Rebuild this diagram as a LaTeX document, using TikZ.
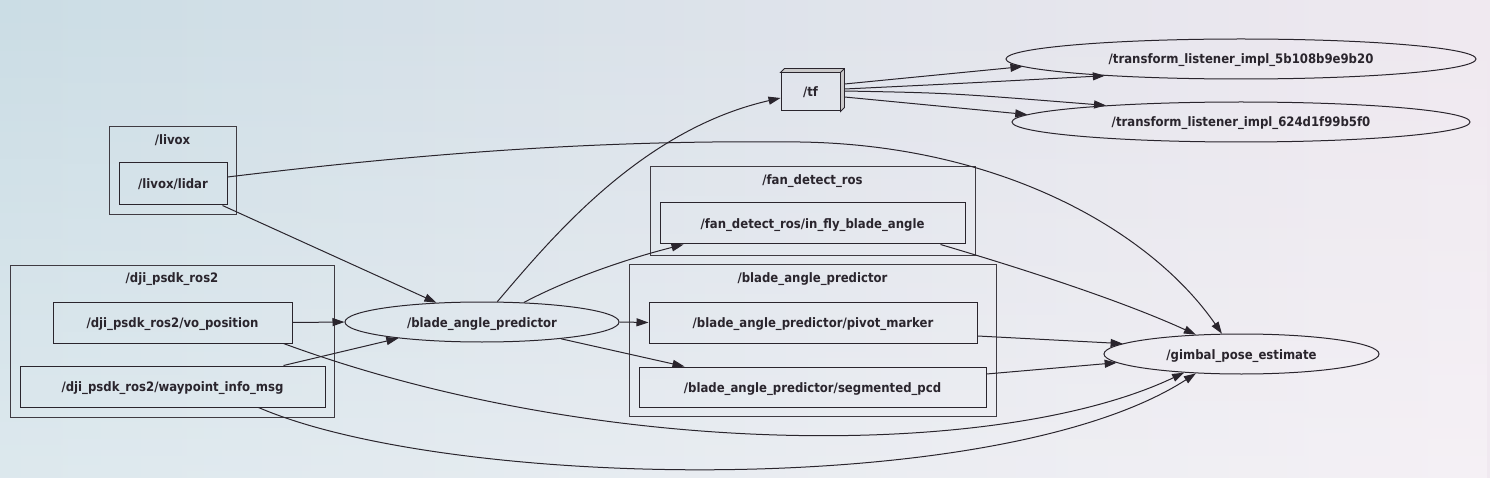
\documentclass[tikz,border=0pt]{standalone}
\usepackage{fontspec}
\setmainfont{DejaVuSansCondensed-Bold.ttf}
\usetikzlibrary{arrows.meta,shapes.geometric,fadings}
\definecolor{inkgrey}{RGB}{42,37,45}
\definecolor{bgleft}{RGB}{203,221,229}
\definecolor{bgmid}{RGB}{229,226,237}
\definecolor{bgright}{RGB}{240,233,240}

\begin{document}
\begin{tikzpicture}[x=1pt,y=-1pt,font=\fontsize{13}{15}\selectfont,text=inkgrey]
\tikzstyle{link} = [draw=inkgrey, line width=1pt, -{Triangle[length=12pt,width=8pt]}]
\tikzstyle{topic} = [draw=inkgrey, line width=1pt, rectangle, minimum height=41pt, inner sep=0pt, text height=11pt, text depth=1pt]
\tikzstyle{rosnode} = [draw=inkgrey, line width=1pt, ellipse, minimum height=40pt, inner sep=0pt, text height=11pt, text depth=1pt]
\tikzstyle{cluster} = [draw=inkgrey!90, line width=0.9pt, rectangle, inner sep=0pt]
\tikzstyle{title} = [inner sep=0pt, text height=11pt, text depth=1pt]
\useasboundingbox (0,0) rectangle (1490,478);
\shade[left color=bgleft, middle color=bgmid, right color=bgright] (0,0) rectangle (1490,478);
\fill[white, opacity=0.35, path fading=north] (0,0) rectangle (1490,478);
% groups
\node[cluster, minimum width=127pt, minimum height=88pt] (livoxgrp) at (172.5,170) {};
\node[title] at (172.5,140) {/livox};
\node[cluster, minimum width=324pt, minimum height=152pt] (djigrp) at (172,341) {};
\node[title] at (172,278) {/dji\_psdk\_ros2};
\node[cluster, minimum width=325pt, minimum height=89pt] (fangrp) at (812.5,210.5) {};
\node[title] at (812.5,180) {/fan\_detect\_ros};
\node[cluster, minimum width=367pt, minimum height=152pt] (bapgrp) at (812.5,340) {};
\node[title] at (812.5,278) {/blade\_angle\_predictor};
% topics
\node[topic, minimum width=108pt, minimum height=42pt] (lidar) at (173,184) {/livox/lidar};
\node[topic, minimum width=239pt] (vopos) at (172.5,322.5) {/dji\_psdk\_ros2/vo\_position};
\node[topic, minimum width=305pt] (wpt) at (172.5,386.5) {/dji\_psdk\_ros2/waypoint\_info\_msg};
\node[topic, minimum width=305pt] (infly) at (812.5,223.5) {/fan\_detect\_ros/in\_fly\_blade\_angle};
\node[topic, minimum width=328pt] (pivot) at (813,322.5) {/blade\_angle\_predictor/pivot\_marker};
\node[topic, minimum width=347pt, minimum height=40pt] (seg) at (812.5,387) {/blade\_angle\_predictor/segmented\_pcd};
\node[topic, minimum width=59pt, minimum height=38pt] (tf) at (810.5,92) {/tf};
\filldraw[fill=inkgrey!25, draw=inkgrey, line width=0.9pt] (tf.north west) -- ++(4,-4) -- ([shift={(4pt,4pt)}]tf.north east)
  -- ([shift={(4pt,4pt)}]tf.south east) -- (tf.south east) -- (tf.north east) -- cycle;
\draw[inkgrey, line width=0.9pt] (tf.north east) -- ++(4,-4);
% nodes
\node[rosnode, minimum width=274pt] (bap) at (482,322) {/blade\_angle\_predictor};
\node[rosnode, minimum width=470pt] (tl5b) at (1241,59) {/transform\_listener\_impl\_5b108b9e9b20};
\node[rosnode, minimum width=458pt] (tl624) at (1241,122) {/transform\_listener\_impl\_624d1f99b5f0};
\node[rosnode, minimum width=275pt] (gimbal) at (1241.5,354) {/gimbal\_pose\_estimate};
% edges
\draw[link] ([yshift=7pt]lidar.east) .. controls (450,150) and (620,140) .. (800,142)
  .. controls (1000,145) and (1150,230) .. (gimbal.134.6);
\draw[link] ([xshift=-5pt]lidar.south east) -- (bap.157.2);
\draw[link] (vopos.east) -- (bap.west);
\draw[link] ([xshift=-42pt]wpt.north east) -- (bap.191.7);
\draw[link] ([xshift=-9pt]vopos.south east) .. controls (600,460) and (1000,460) .. (gimbal.198);
\draw[link] ([xshift=-67pt]wpt.south east) .. controls (450,490) and (1000,500) .. (gimbal.203.3);
\draw[link] (bap.53) .. controls (550,240) and (640,130) .. ([yshift=-6pt]tf.west);
\draw[link] (bap.25.6) .. controls (570,278) and (630,258) .. ([xshift=24pt]infly.south west);
\draw[link] (bap.east) -- (pivot.west);
\draw[link] (bap.348.3) -- ([xshift=46pt]seg.north west);
\draw[link] ([xshift=-25pt]infly.south east) .. controls (1020,268) and (1120,300) .. (gimbal.157.9);
\draw[link] ([yshift=-13.5pt]pivot.east) -- (gimbal.175.9);
\draw[link] ([yshift=13pt]seg.east) -- (gimbal.184.1);
\draw[link] ([xshift=4pt,yshift=8pt]tf.east) -- (tl5b.182);
\draw[link] ([xshift=4pt,yshift=3pt]tf.east) .. controls (950,84) .. (tl5b.187);
\draw[link] ([xshift=4pt,yshift=1pt]tf.east) .. controls (950,93) .. (tl624.173.1);
\draw[link] ([xshift=4pt,yshift=-5pt]tf.east) -- (tl624.178);
\end{tikzpicture}
\end{document}
